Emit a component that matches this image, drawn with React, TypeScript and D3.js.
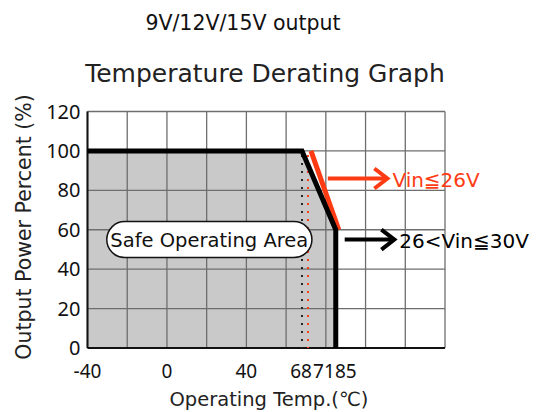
import React, { useEffect, useRef } from 'react';
import * as d3 from 'd3';

const subtitle = '9V/12V/15V output';
const title = 'Temperature Derating Graph';
const xTitle = 'Operating Temp.(℃)';
const yTitle = 'Output Power Percent (%)';

const gridTemps = [-40, -20, 0, 20, 40, 60, 80, 100, 120, 140];
const yTicks = [0, 20, 40, 60, 80, 100, 120];
const xTickLabels = ['-40', '0', '40', '68', '71', '85'];
const xTickValues = [-40, 0, 40, 68, 71, 85];
const xTickNudge = [0, 0, 0, -1, 16, 10];

// derating curves [temp, percent]
const curve30V = [[-40, 100], [68, 100], [85, 60], [85, 0]];
const curve26V = [[71, 100], [85, 60]];
const dotted = [{ t: 68, color: '#222' }, { t: 71, color: '#ff3b14' }];

const legendItems = [
  { label: 'Vin≦26V', color: '#ff3b14', t0: 81, t1: 111, v: 86 },
  { label: '26<Vin≦30V', color: '#000', t0: 89.5, t1: 114.5, v: 55 },
];

const font = '"DejaVu Sans", sans-serif';
const numFont = '"Noto Sans", sans-serif';

const App = () => {
  const ref = useRef(null);

  useEffect(() => {
    const width = 541;
    const height = 412;
    const margin = { top: 111.5, left: 87.5, right: 96, bottom: 64 };
    const innerW = width - margin.left - margin.right;
    const innerH = height - margin.top - margin.bottom;

    const svg = d3.select(ref.current).attr('width', width).attr('height', height);
    svg.selectAll('*').remove();

    svg.append('text').attr('x', 243).attr('y', 30).attr('text-anchor', 'middle')
      .style('font-family', font).style('font-size', '20.5px').attr('fill', '#111').text(subtitle);
    svg.append('text').attr('x', 265).attr('y', 82).attr('text-anchor', 'middle')
      .style('font-family', font).style('font-size', '25px').attr('fill', '#222').text(title);

    const g = svg.append('g').attr('transform', `translate(${margin.left},${margin.top})`);

    const x = d3.scaleLinear().domain([-40, 140]).range([0, innerW]);
    const y = d3.scaleLinear().domain([0, 120]).range([innerH, 0]);

    // safe area fill
    const line = d3.line().x(d => x(d[0])).y(d => y(d[1]));
    g.append('path')
      .attr('d', line([[-40, 0], ...curve30V]) + 'Z')
      .attr('fill', '#c9c9c9');

    // grid
    g.selectAll('.gx').data(gridTemps).join('line')
      .attr('x1', d => x(d)).attr('x2', d => x(d)).attr('y1', 0).attr('y2', innerH)
      .attr('stroke', '#6e6e6e').attr('stroke-width', 1.3);
    g.selectAll('.gy').data(yTicks).join('line')
      .attr('y1', d => y(d)).attr('y2', d => y(d)).attr('x1', 0).attr('x2', innerW)
      .attr('stroke', '#6e6e6e').attr('stroke-width', 1.3);

    // axes
    g.append('line').attr('x1', 0).attr('x2', 0).attr('y1', 0).attr('y2', innerH)
      .attr('stroke', '#111').attr('stroke-width', 2);
    g.append('line').attr('x1', 0).attr('x2', innerW).attr('y1', innerH).attr('y2', innerH)
      .attr('stroke', '#111').attr('stroke-width', 2);

    // dotted temperature markers
    g.selectAll('.dot').data(dotted).join('line')
      .attr('x1', d => x(d.t)).attr('x2', d => x(d.t)).attr('y1', y(100) + 4).attr('y2', innerH)
      .attr('stroke', d => d.color).attr('stroke-width', 2).attr('stroke-dasharray', '2,6');

    // curves
    g.append('path').attr('d', line(curve26V)).attr('fill', 'none')
      .attr('stroke', '#ff3b14').attr('stroke-width', 5).attr('transform', 'translate(3,0)');
    g.append('path').attr('d', line(curve30V)).attr('fill', 'none')
      .attr('stroke', '#000').attr('stroke-width', 5).attr('stroke-linejoin', 'miter');

    // safe operating area label
    const pillX0 = x(-30.3), pillX1 = x(73), pillY = y(55);
    g.append('rect').attr('x', pillX0).attr('y', pillY - 18).attr('width', pillX1 - pillX0).attr('height', 36)
      .attr('rx', 18).attr('fill', '#fff').attr('stroke', '#111').attr('stroke-width', 1.5);
    g.append('text').attr('x', (pillX0 + pillX1) / 2).attr('y', pillY + 7).attr('text-anchor', 'middle')
      .style('font-family', font).style('font-size', '19.5px').attr('fill', '#111').text('Safe Operating Area');

    // legend arrows
    legendItems.forEach(d => {
      const x0 = x(d.t0), x1 = x(d.t1), yy = y(d.v);
      g.append('line').attr('x1', x0).attr('x2', x1 - 2).attr('y1', yy).attr('y2', yy)
        .attr('stroke', d.color).attr('stroke-width', 4);
      g.append('path').attr('d', `M${x1 - 13},${yy - 10}L${x1},${yy}L${x1 - 13},${yy + 10}`)
        .attr('fill', 'none').attr('stroke', d.color).attr('stroke-width', 4);
      g.append('text').attr('x', x1 + 5).attr('y', yy + 8)
        .style('font-family', font).style('font-size', '20px').attr('fill', d.color).text(d.label);
    });

    // y tick labels
    g.selectAll('.yl').data(yTicks).join('text')
      .attr('x', -7).attr('y', d => y(d) + 7).attr('text-anchor', 'end')
      .style('font-family', numFont).style('font-size', '20px').attr('fill', '#111').text(d => d);

    // x tick labels
    g.selectAll('.xl').data(xTickValues).join('text')
      .attr('x', (d, i) => x(d) + xTickNudge[i]).attr('y', innerH + 30).attr('text-anchor', 'middle')
      .style('font-family', numFont).style('font-size', '19px').attr('fill', '#111')
      .text((d, i) => xTickLabels[i]);

    // axis titles
    svg.append('text').attr('x', 269).attr('y', 406).attr('text-anchor', 'middle')
      .style('font-family', font).style('font-size', '19.5px').attr('fill', '#222').text(xTitle);
    svg.append('text').attr('transform', 'translate(31,227) rotate(-90)').attr('text-anchor', 'middle')
      .style('font-family', font).style('font-size', '20.5px').attr('fill', '#222').text(yTitle);
  }, []);

  return (
    <svg ref={ref} style={{ position: 'absolute', left: 0, top: 0, display: 'block', background: '#fff' }}></svg>
  );
};

export default App;
